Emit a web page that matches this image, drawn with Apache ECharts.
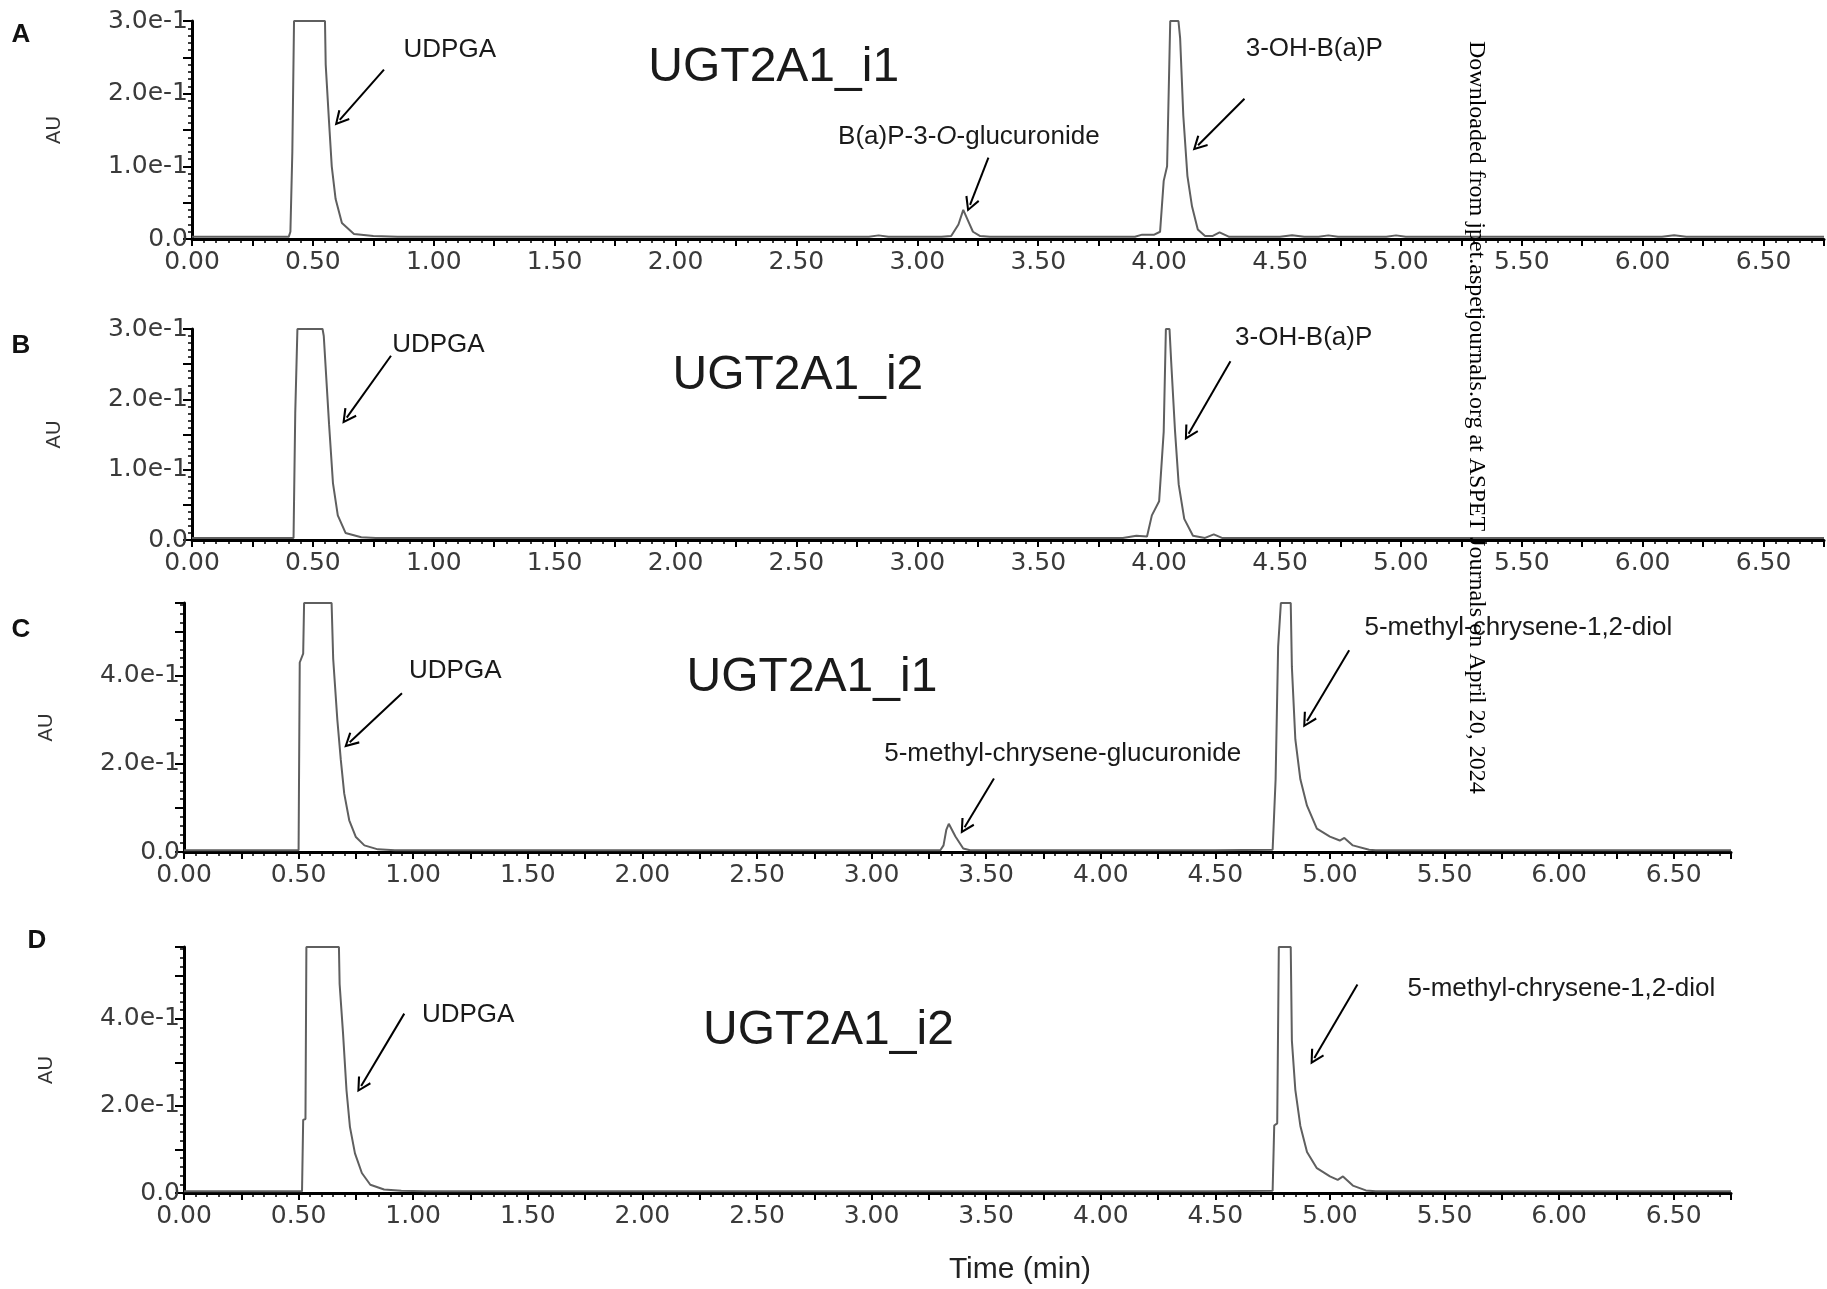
<!DOCTYPE html>
<html>
<head>
<meta charset="utf-8">
<title>UGT2A1 chromatograms</title>
<script src="https://cdn.jsdelivr.net/npm/echarts@6.0.0/dist/echarts.min.js"></script>
<style>
  html, body { margin: 0; padding: 0; background: #fff; }
  #chart { width: 1827px; height: 1289px; }
</style>
</head>
<body>
<div id="chart"></div>
<script>
// ---- data (time in min, absorbance in AU) ----
// A: UGT2A1_i1 + B(a)P
const timeA = [0, 0.30, 0.40, 0.407, 0.415, 0.422, 0.55, 0.553, 0.567, 0.578,
  0.594, 0.62, 0.67, 0.75, 0.85, 1.2, 2.0, 2.80, 2.84, 2.88,
  3.10, 3.14, 3.17, 3.19, 3.21, 3.23, 3.26, 3.30, 3.70, 3.90,
  3.93, 3.98, 4.004, 4.019, 4.033, 4.046, 4.08, 4.087, 4.10, 4.117,
  4.136, 4.16, 4.19, 4.22, 4.25, 4.29, 4.50, 4.55, 4.60, 4.66,
  4.70, 4.74, 4.94, 4.98, 5.02, 6.08, 6.13, 6.18, 6.75];
const auA = [0.003, 0.003, 0.003, 0.010, 0.120, 0.300, 0.300, 0.240, 0.160, 0.100,
  0.055, 0.022, 0.007, 0.004, 0.003, 0.003, 0.003, 0.003, 0.005, 0.003,
  0.003, 0.004, 0.020, 0.040, 0.025, 0.010, 0.004, 0.003, 0.003, 0.003,
  0.006, 0.006, 0.010, 0.080, 0.100, 0.300, 0.300, 0.276, 0.170, 0.087,
  0.045, 0.013, 0.004, 0.004, 0.009, 0.003, 0.003, 0.005, 0.003, 0.003,
  0.005, 0.003, 0.003, 0.005, 0.003, 0.003, 0.005, 0.003, 0.003];

// B: UGT2A1_i2 + B(a)P
const timeB = [0, 0.30, 0.42, 0.427, 0.436, 0.54, 0.545, 0.567, 0.583, 0.603,
  0.635, 0.70, 0.76, 1.5, 3.0, 3.85, 3.906, 3.95, 3.97, 4.00,
  4.019, 4.028, 4.043, 4.05, 4.066, 4.081, 4.104, 4.14, 4.19, 4.226,
  4.26, 5.0, 6.75];
const auB = [0.003, 0.003, 0.003, 0.180, 0.300, 0.300, 0.290, 0.164, 0.081, 0.035,
  0.010, 0.004, 0.003, 0.003, 0.003, 0.003, 0.006, 0.005, 0.035, 0.055,
  0.154, 0.300, 0.300, 0.253, 0.154, 0.079, 0.030, 0.006, 0.003, 0.008,
  0.003, 0.003, 0.003];

// C: UGT2A1_i1 + 5-methyl-chrysene-1,2-diol
const timeC = [0, 0.30, 0.50, 0.505, 0.520, 0.524, 0.644, 0.651, 0.669, 0.684,
  0.699, 0.721, 0.75, 0.787, 0.846, 0.92, 1.2, 3.0, 3.30, 3.314,
  3.326, 3.337, 3.366, 3.40, 3.43, 4.50, 4.75, 4.763, 4.774, 4.786,
  4.829, 4.834, 4.849, 4.871, 4.90, 4.943, 5.00, 5.043, 5.063, 5.10,
  5.171, 5.20, 6.75];
const auC = [0.004, 0.004, 0.004, 0.430, 0.450, 0.565, 0.565, 0.438, 0.300, 0.210,
  0.133, 0.072, 0.034, 0.015, 0.006, 0.004, 0.004, 0.004, 0.004, 0.015,
  0.050, 0.064, 0.035, 0.008, 0.004, 0.004, 0.005, 0.165, 0.466, 0.565,
  0.565, 0.420, 0.256, 0.165, 0.105, 0.053, 0.035, 0.026, 0.032, 0.015,
  0.005, 0.004, 0.004];

// D: UGT2A1_i2 + 5-methyl-chrysene-1,2-diol
const timeD = [0, 0.30, 0.515, 0.520, 0.530, 0.534, 0.676, 0.679, 0.694, 0.709,
  0.724, 0.746, 0.776, 0.813, 0.873, 0.948, 1.05, 1.5, 4.50, 4.75,
  4.757, 4.77, 4.777, 4.829, 4.834, 4.849, 4.871, 4.90, 4.943, 5.00,
  5.034, 5.057, 5.10, 5.157, 5.20, 6.75];
const auD = [0.004, 0.004, 0.004, 0.168, 0.170, 0.565, 0.565, 0.480, 0.366, 0.236,
  0.152, 0.091, 0.046, 0.019, 0.008, 0.005, 0.004, 0.004, 0.004, 0.005,
  0.155, 0.160, 0.565, 0.565, 0.350, 0.237, 0.154, 0.094, 0.057, 0.038,
  0.030, 0.038, 0.017, 0.006, 0.004, 0.004];

// axis ranges
const timeMax = 6.75;
const auMaxAB = 0.3;
const auMaxCD = 0.565;

// ---- annotations (placed in data units of each panel) ----
const notesA = [
  { text: 'UDPGA', at: [0.875, 0.261], align: 'left' },
  { text: 'UGT2A1_i1', at: [2.406, 0.236], title: true },
  { text: 'B(a)P-3-{i|O}-glucuronide', at: [3.213, 0.141] },
  { text: '3-OH-B(a)P', at: [4.642, 0.262] }
];
const arrowsA = [[[0.794, 0.233], [0.611, 0.164]], [[3.294, 0.112], [3.218, 0.047]], [[4.353, 0.193], [4.161, 0.129]]];

const notesB = [
  { text: 'UDPGA', at: [0.828, 0.278], align: 'left' },
  { text: 'UGT2A1_i2', at: [2.506, 0.234], title: true },
  { text: '3-OH-B(a)P', at: [4.598, 0.287] }
];
const arrowsB = [[[0.823, 0.262], [0.64, 0.174]], [[4.295, 0.254], [4.122, 0.151]]];

const notesC = [
  { text: 'UDPGA', at: [0.982, 0.41], align: 'left' },
  { text: 'UGT2A1_i1', at: [2.74, 0.395], title: true },
  { text: '5-methyl-chrysene-glucuronide', at: [3.834, 0.223] },
  { text: '5-methyl-chrysene-1,2-diol', at: [5.822, 0.508] }
];
const arrowsC = [[[0.951, 0.36], [0.723, 0.249]], [[3.534, 0.167], [3.406, 0.056]], [[5.084, 0.458], [4.9, 0.297]]];

const notesD = [
  { text: 'UDPGA', at: [1.038, 0.409], align: 'left' },
  { text: 'UGT2A1_i2', at: [2.812, 0.372], title: true },
  { text: '5-methyl-chrysene-1,2-diol', at: [6.01, 0.468] }
];
const arrowsD = [[[0.961, 0.412], [0.773, 0.246]], [[5.12, 0.479], [4.932, 0.31]]];

const ARROW = 'path://M10,0 L20,17 L17.6,18.4 L10,5.2 L2.4,18.4 L0,17 Z';
const TICK_FONT = 'DejaVu Sans';
const TEXT_FONT = 'Liberation Sans';

function xAxisFor(i) {
  return {
    type: 'value', gridIndex: i, min: 0, max: timeMax, interval: 0.25,
    splitLine: { show: false },
    axisLine: { lineStyle: { color: '#000', width: 3 } },
    axisTick: { length: 7, lineStyle: { color: '#000', width: 2 } },
    minorTick: { show: true, splitNumber: 5, length: 4, lineStyle: { color: '#000', width: 1.5 } },
    axisLabel: {
      fontSize: 25, fontFamily: TICK_FONT, color: '#3a3a3a', margin: 11,
      formatter: v => (Math.round(v * 100) % 50 === 0 ? v.toFixed(2) : '')
    }
  };
}

function yAxisFor(i, max, interval, labelStep) {
  return {
    type: 'value', gridIndex: i, min: 0, max: max, interval: interval,
    name: 'AU', nameLocation: 'middle', nameGap: 128,
    nameTextStyle: { fontSize: 20, fontFamily: TEXT_FONT, color: '#333' },
    splitLine: { show: false },
    axisLine: { lineStyle: { color: '#000', width: 3 } },
    axisTick: { length: 9, lineStyle: { color: '#000', width: 2 } },
    minorTick: { show: true, splitNumber: 5, length: 4, lineStyle: { color: '#000', width: 1.5 } },
    axisLabel: {
      fontSize: 25, fontFamily: TICK_FONT, color: '#3a3a3a', margin: 4,
      formatter: function (v) {
        const k = Math.round(v * 1000);
        if (k % labelStep !== 0) return '';
        return k === 0 ? '0.0' : (v * 10).toFixed(1) + 'e-1';
      }
    }
  };
}

function makeSeries(i, time, au, notes, arrows) {
  return {
    type: 'line', xAxisIndex: i, yAxisIndex: i,
    data: time.map((t, k) => [t, au[k]]),
    showSymbol: false, symbol: 'none',
    lineStyle: { color: '#5f5f5f', width: 2 },
    animation: false, silent: true, z: 3,
    markPoint: {
      silent: true, animation: false, symbol: 'circle', symbolSize: 0,
      itemStyle: { color: 'transparent' },
      data: notes.map(n => ({
        coord: n.at,
        label: {
          show: true,
          position: n.align === 'left' ? 'right' : 'inside',
          distance: 0,
          formatter: n.text,
          fontSize: n.title ? 48 : 26,
          fontFamily: TEXT_FONT,
          color: '#1a1a1a',
          rich: { i: { fontStyle: 'italic', fontSize: 26, fontFamily: TEXT_FONT, color: '#1a1a1a' } }
        }
      }))
    },
    markLine: {
      silent: true, animation: false,
      symbol: ['none', ARROW], symbolSize: 15,
      label: { show: false },
      lineStyle: { color: '#000', width: 2, type: 'solid' },
      data: arrows.map(a => [{ coord: a[0] }, { coord: a[1] }])
    }
  };
}

const chart = echarts.init(document.getElementById('chart'), null, { renderer: 'canvas' });

const option = {
  backgroundColor: '#fff',
  animation: false,
  grid: [
    { left: 192, top: 21, width: 1636, height: 218 },
    { left: 192, top: 329, width: 1636, height: 211 },
    { left: 184, top: 603, width: 1547, height: 249 },
    { left: 184, top: 947, width: 1547, height: 246 }
  ],
  xAxis: [xAxisFor(0), xAxisFor(1), xAxisFor(2), xAxisFor(3)],
  yAxis: [
    yAxisFor(0, auMaxAB, 0.05, 100),
    yAxisFor(1, auMaxAB, 0.05, 100),
    yAxisFor(2, auMaxCD, 0.1, 200),
    yAxisFor(3, auMaxCD, 0.1, 200)
  ],
  series: [
    makeSeries(0, timeA, auA, notesA, arrowsA),
    makeSeries(1, timeB, auB, notesB, arrowsB),
    makeSeries(2, timeC, auC, notesC, arrowsC),
    makeSeries(3, timeD, auD, notesD, arrowsD)
  ],
  graphic: [
    { type: 'text', x: 21, y: 35, style: { text: 'A', font: 'bold 26px "Liberation Sans"', fill: '#111', align: 'center', verticalAlign: 'middle' } },
    { type: 'text', x: 21, y: 346, style: { text: 'B', font: 'bold 26px "Liberation Sans"', fill: '#111', align: 'center', verticalAlign: 'middle' } },
    { type: 'text', x: 21, y: 630, style: { text: 'C', font: 'bold 26px "Liberation Sans"', fill: '#111', align: 'center', verticalAlign: 'middle' } },
    { type: 'text', x: 37, y: 941, style: { text: 'D', font: 'bold 26px "Liberation Sans"', fill: '#111', align: 'center', verticalAlign: 'middle' } },
    { type: 'text', x: 1020, y: 1270, style: { text: 'Time (min)', font: '30px "Liberation Sans"', fill: '#222', align: 'center', verticalAlign: 'middle' } },
    // vertical download stamp on the right side
    {
      type: 'text', x: 1476, y: 41, rotation: -Math.PI / 2, z: 100,
      style: { text: 'Downloaded from jpet.aspetjournals.org at ASPET Journals on April 20, 2024', font: '24px "Liberation Serif"', fill: '#000', align: 'left', verticalAlign: 'middle' }
    }
  ]
};

chart.setOption(option);
</script>
</body>
</html>
